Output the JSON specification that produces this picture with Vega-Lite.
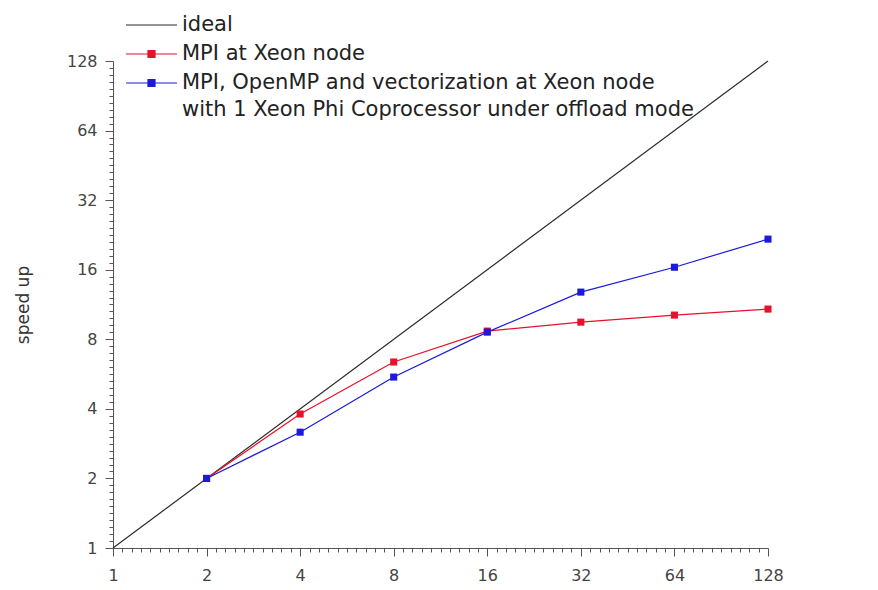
{
  "$schema": "https://vega.github.io/schema/vega-lite/v6.json",
  "width": 655,
  "height": 487,
  "autosize": {"type": "none"},
  "padding": {"left": 113, "top": 61, "right": 110, "bottom": 42},
  "background": "white",
  "config": {
    "view": {"stroke": null},
    "font": "DejaVu Sans",
    "axis": {
      "domainColor": "#555555",
      "tickColor": "#555555",
      "labelColor": "#444444",
      "labelFont": "DejaVu Sans",
      "labelFontSize": 16,
      "titleFont": "DejaVu Sans",
      "titleFontSize": 17,
      "titleFontWeight": "normal",
      "titleColor": "#333333",
      "grid": false,
      "labelOverlap": false,
      "labelBound": false,
      "labelFlush": false
    }
  },
  "data": {
    "values": [
      {"series": "ideal", "n": 1, "speedup": 1},
      {"series": "ideal", "n": 128, "speedup": 128},
      {"series": "MPI at Xeon node", "n": 2, "speedup": 2},
      {"series": "MPI at Xeon node", "n": 4, "speedup": 3.8},
      {"series": "MPI at Xeon node", "n": 8, "speedup": 6.38},
      {"series": "MPI at Xeon node", "n": 16, "speedup": 8.68},
      {"series": "MPI at Xeon node", "n": 32, "speedup": 9.49},
      {"series": "MPI at Xeon node", "n": 64, "speedup": 10.18},
      {"series": "MPI at Xeon node", "n": 128, "speedup": 10.81},
      {"series": "MPI, OpenMP and vectorization at Xeon node", "n": 2, "speedup": 2},
      {"series": "MPI, OpenMP and vectorization at Xeon node", "n": 4, "speedup": 3.17},
      {"series": "MPI, OpenMP and vectorization at Xeon node", "n": 8, "speedup": 5.49},
      {"series": "MPI, OpenMP and vectorization at Xeon node", "n": 16, "speedup": 8.59},
      {"series": "MPI, OpenMP and vectorization at Xeon node", "n": 32, "speedup": 12.8},
      {"series": "MPI, OpenMP and vectorization at Xeon node", "n": 64, "speedup": 16.4},
      {"series": "MPI, OpenMP and vectorization at Xeon node", "n": 128, "speedup": 21.7}
    ]
  },
  "encoding": {
    "x": {
      "field": "n",
      "type": "quantitative",
      "scale": {"type": "log", "base": 2, "domain": [1, 128], "nice": false},
      "axis": {
        "title": null,
        "values": [1, 1.0718, 1.1487, 1.2311, 1.3195, 1.4142, 1.5157, 1.6245, 1.7411, 1.8661,
                   2, 2.1435, 2.2974, 2.4623, 2.639, 2.8284, 3.0314, 3.249, 3.4822, 3.7321,
                   4, 4.2871, 4.5948, 4.9246, 5.278, 5.6569, 6.0629, 6.498, 6.9644, 7.4643,
                   8, 8.5742, 9.1896, 9.8492, 10.556, 11.314, 12.126, 12.996, 13.929, 14.929,
                   16, 17.148, 18.379, 19.698, 21.112, 22.627, 24.251, 25.992, 27.858, 29.857,
                   32, 34.297, 36.758, 39.397, 42.224, 45.255, 48.503, 51.984, 55.715, 59.714,
                   64, 68.594, 73.517, 78.793, 84.449, 90.51, 97.006, 103.97, 111.43, 119.43, 128],
        "labelExpr": "abs(log(datum.value)/LN2 - round(log(datum.value)/LN2)) < 0.01 ? '' + round(datum.value) : ''",
        "tickSize": {"condition": {"test": "abs(log(datum.value)/LN2 - round(log(datum.value)/LN2)) < 0.01", "value": 8}, "value": 4},
        "labelPadding": 11
      }
    },
    "y": {
      "field": "speedup",
      "type": "quantitative",
      "scale": {"type": "log", "base": 2, "domain": [1, 128], "nice": false},
      "axis": {
        "title": "speed up",
        "values": [1, 1.0718, 1.1487, 1.2311, 1.3195, 1.4142, 1.5157, 1.6245, 1.7411, 1.8661,
                   2, 2.1435, 2.2974, 2.4623, 2.639, 2.8284, 3.0314, 3.249, 3.4822, 3.7321,
                   4, 4.2871, 4.5948, 4.9246, 5.278, 5.6569, 6.0629, 6.498, 6.9644, 7.4643,
                   8, 8.5742, 9.1896, 9.8492, 10.556, 11.314, 12.126, 12.996, 13.929, 14.929,
                   16, 17.148, 18.379, 19.698, 21.112, 22.627, 24.251, 25.992, 27.858, 29.857,
                   32, 34.297, 36.758, 39.397, 42.224, 45.255, 48.503, 51.984, 55.715, 59.714,
                   64, 68.594, 73.517, 78.793, 84.449, 90.51, 97.006, 103.97, 111.43, 119.43, 128],
        "labelExpr": "abs(log(datum.value)/LN2 - round(log(datum.value)/LN2)) < 0.01 ? '' + round(datum.value) : ''",
        "tickSize": {"condition": {"test": "abs(log(datum.value)/LN2 - round(log(datum.value)/LN2)) < 0.01", "value": 8}, "value": 4},
        "labelPadding": 8,
        "titlePadding": 34
      }
    },
    "color": {
      "field": "series",
      "type": "nominal",
      "scale": {
        "domain": ["ideal", "MPI at Xeon node", "MPI, OpenMP and vectorization at Xeon node"],
        "range": ["#2a2a2a", "#e8102a", "#1a1ad8"]
      },
      "legend": {
        "title": null,
        "orient": "none",
        "legendX": 28,
        "legendY": -46.5,
        "padding": 0,
        "symbolSize": 100,
        "symbolStrokeWidth": 1.2,
        "labelFont": "DejaVu Sans",
        "labelFontSize": 21,
        "labelColor": "#222222",
        "labelOffset": 20,
        "labelLimit": 0,
        "labelBaseline": "top",
        "rowPadding": 8,
        "labelExpr": "datum.value === 'MPI, OpenMP and vectorization at Xeon node' ? ['MPI, OpenMP and vectorization at Xeon node', 'with 1 Xeon Phi Coprocessor under offload mode'] : datum.label",
        "encode": {
          "symbols": {
            "update": {
              "shape": {"signal": "datum.value === 'ideal' ? 'M-5.1,0H5.1' : 'M-5.1,0H5.1M-0.7,-0.7H0.7V0.7H-0.7Z'"},
              "fill": {"scale": "color", "field": "value"},
              "stroke": {"scale": "color", "field": "value"},
              "opacity": {"value": 1}
            }
          },
          "labels": {
            "update": {"dy": {"value": -11.5}, "lineHeight": {"value": 27}}
          }
        }
      }
    }
  },
  "layer": [
    {
      "mark": {"type": "line", "strokeWidth": 1.2},
      "encoding": {"order": {"field": "n", "type": "quantitative"}}
    },
    {
      "transform": [{"filter": "datum.series !== 'ideal'"}],
      "mark": {"type": "point", "shape": "square", "filled": true, "size": 50, "opacity": 1}
    }
  ]
}
